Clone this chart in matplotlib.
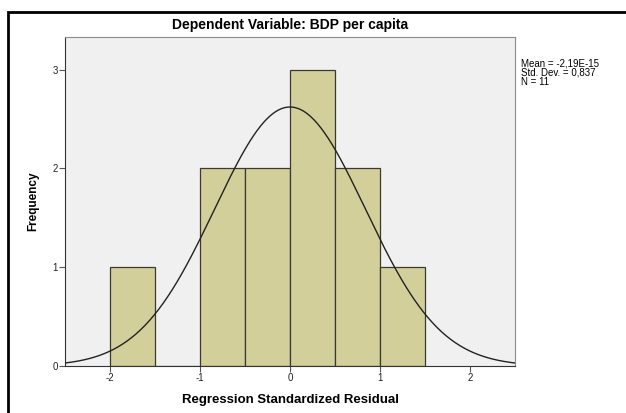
import numpy as np
import matplotlib
matplotlib.use("Agg")
import matplotlib.pyplot as plt
from matplotlib.patches import Rectangle

bin_edges = [-2.0, -1.5, -1.0, -0.5, 0.0, 0.5, 1.0, 1.5]
counts = [1, 0, 2, 2, 3, 2, 1]
mean = -2.19e-15
std = 0.837
n = 11
x_ticks = [-2, -1, 0, 1, 2]
y_ticks = [0, 1, 2, 3]
title = "Dependent Variable: BDP per capita"
stats_text = "Mean = -2,19E-15\nStd. Dev. = 0,837\nN = 11"

plt.rcParams['font.family'] = ['Liberation Sans', 'DejaVu Sans']

fig = plt.figure(figsize=(6.26, 4.13), dpi=100)
W, H = 626, 413
# outer frame
fig.patches.append(Rectangle((8 / W, -0.1), 1.2, (H - 12) / H + 0.1, transform=fig.transFigure,
                             fill=False, edgecolor='black', linewidth=2, zorder=0))

ax = fig.add_axes([65 / W, (H - 366) / H, (515 - 65) / W, (366 - 37) / H])
ax.set_facecolor('#f0f0f0')

widths = np.diff(bin_edges)
ax.bar(bin_edges[:-1], counts, width=widths, align='edge', color='#d3cf9b',
       edgecolor='#3a3a30', linewidth=0.9, zorder=2)

xs = np.linspace(-2.5, 2.5, 400)
bw = widths[0]
ys = n * bw / (std * np.sqrt(2 * np.pi)) * np.exp(-0.5 * ((xs - mean) / std) ** 2)
ax.plot(xs, ys, color='#222222', linewidth=1.0, zorder=3)

ax.set_xlim(-2.5, 2.5)
ax.set_ylim(0, 3.33)
ax.set_xticks(x_ticks)
ax.set_xticklabels([str(t) for t in x_ticks])
ax.set_yticks(y_ticks)
ax.set_yticklabels([str(t) for t in y_ticks])
ax.tick_params(axis='both', labelsize=7, color='#555555', labelcolor='#222222', length=4, width=0.8, pad=1)
for s in ['top', 'right']:
    ax.spines[s].set_color('#8a8a8a')
for s in ['left', 'bottom']:
    ax.spines[s].set_color('#333333')

ax.set_xlabel("Regression Standardized Residual", fontsize=9.5, fontweight='bold', labelpad=8)
ax.set_ylabel("Frequency", fontsize=8.5, fontweight='bold', labelpad=10)
fig.text(290 / W, (H - 25) / H, title, ha='center', va='center', fontsize=10, fontweight='bold')
fig.text(521 / W, (H - 58) / H, stats_text, ha='left', va='top', fontsize=7, linespacing=0.95)

fig.savefig("out.png", dpi=100)
